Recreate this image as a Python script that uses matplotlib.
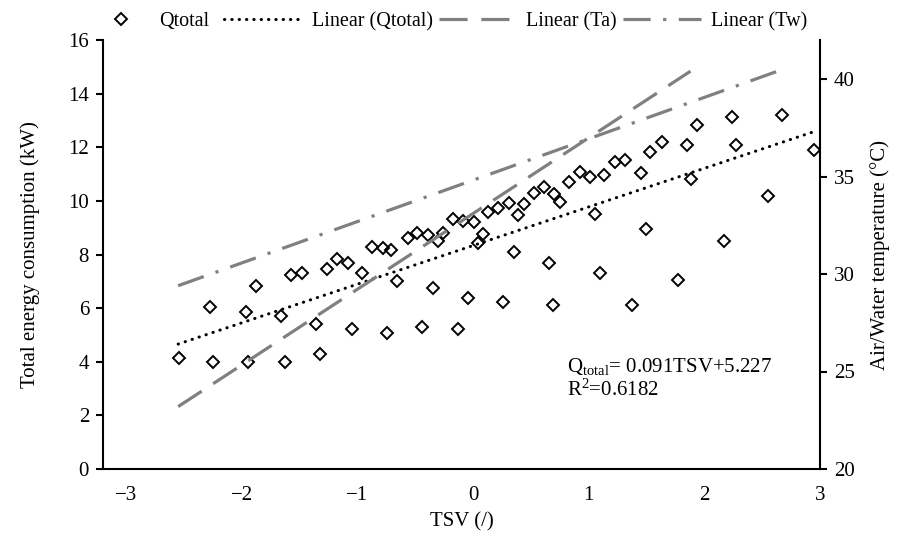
import matplotlib
matplotlib.use('Agg')
import matplotlib.pyplot as plt

plt.rcParams['font.family'] = 'Liberation Serif'
plt.rcParams['mathtext.fontset'] = 'custom'
plt.rcParams['mathtext.rm'] = 'Liberation Serif'
plt.rcParams['mathtext.it'] = 'Liberation Serif:italic'

# scatter data: TSV vs total energy consumption (kW)
tsv = [-2.545, -2.251, -1.948, -1.628, -1.325, -2.277, -1.965, -1.662, -1.879, -1.576,
       -1.481, -1.264, -1.177, -1.082, -0.961, -1.359, -1.048, -0.745, -0.874, -0.779,
       -0.710, -0.658, -0.563, -0.485, -0.390, -0.303, -0.260, -0.173, -0.087, 0.009,
       0.087, 0.043, -0.346, -0.043, -0.442, -0.130, 0.130, 0.216, 0.312, 0.390,
       0.442, 0.528, 0.615, 0.701, 0.753, 0.831, 0.926, 1.013, 1.134, 1.056,
       0.260, 0.355, 0.658, 0.693, 1.100, 1.229, 1.316, 1.455, 1.532, 1.636,
       1.853, 1.939, 2.242, 2.277, 2.675, 2.944, 1.887, 2.554, 1.498, 2.173,
       1.775, 1.377]
q_total = [4.14, 3.99, 3.99, 3.99, 4.29, 6.04, 5.86, 5.71, 6.83, 7.24,
           7.31, 7.46, 7.83, 7.68, 7.31, 5.41, 5.22, 5.07, 8.28, 8.24,
           8.17, 7.01, 8.62, 8.80, 8.73, 8.50, 8.80, 9.32, 9.25, 9.21,
           8.77, 8.43, 6.75, 6.38, 5.30, 5.22, 9.59, 9.74, 9.92, 9.47,
           9.88, 10.29, 10.52, 10.26, 9.96, 10.70, 11.08, 10.89, 10.97, 9.51,
           6.23, 8.09, 7.68, 6.12, 7.31, 11.45, 11.53, 11.04, 11.82, 12.20,
           12.08, 12.83, 13.13, 12.08, 13.20, 11.90, 10.82, 10.18, 8.95, 8.50,
           7.05, 6.12]

# trendline end points
fit_q_tsv = [-2.55, 2.94]
fit_q_val = [4.66, 12.57]
fit_ta_tsv = [-2.55, 1.88]
fit_ta_val = [23.2, 40.4]
fit_tw_tsv = [-2.55, 2.68]
fit_tw_val = [29.4, 40.5]

FS = 15
LFS = 14.5
GRAY = '#808080'

fig = plt.figure(figsize=(9.02, 5.40), dpi=100)
ax = fig.add_axes([103/902, 1-469/540, (820-103)/902, (469-40)/540])
ax2 = ax.twinx()

h_q, = ax.plot(tsv, q_total, linestyle='none', marker='D', ms=6.5, mfc='none',
               mec='black', mew=1.4, label='Qtotal')
h_fit, = ax.plot(fit_q_tsv, fit_q_val, color='black', lw=2.2,
                 linestyle=(0, (0.1, 2.3)), dash_capstyle='round', label='Linear (Qtotal)')
h_ta, = ax2.plot(fit_ta_tsv, fit_ta_val, color=GRAY, lw=2.3,
                 linestyle=(0, (8.8, 4.3)), dash_capstyle='butt', label='Linear (Ta)')
h_tw, = ax2.plot(fit_tw_tsv, fit_tw_val, color=GRAY, lw=2.3,
                 linestyle=(0, (8.5, 3.9, 1, 3.9)), dash_capstyle='butt', label='Linear (Tw)')

ax.set_xlim(-3.2, 3.0)
ax.set_ylim(0, 16)
ax.set_xticks(range(-3, 4))
ax.set_yticks(range(0, 17, 2))
ax2.set_ylim(20, 42)
ax2.set_yticks([20, 25, 30, 35, 40])

for a in (ax, ax2):
    a.spines['top'].set_visible(False)
    for s in a.spines.values():
        s.set_linewidth(1.5)
ax.spines['right'].set_visible(False)
ax2.spines['left'].set_visible(False)
ax2.spines['bottom'].set_visible(False)

ax.tick_params(axis='y', direction='out', length=5, width=1.5, pad=5, labelsize=FS)
ax.tick_params(axis='x', length=0, pad=12, labelsize=FS)
ax2.tick_params(axis='y', direction='out', length=5, width=1.5, pad=5, labelsize=FS)

ax.set_xlabel('TSV (/)', fontsize=FS, va='center')
ax.xaxis.set_label_coords(0.5, (469-522)/429)
ax.set_ylabel('Total energy consumption (kW)', fontsize=FS, ha='center', va='center')
ax.yaxis.set_label_coords((30-103)/717, 0.5)
ax2.set_ylabel('Air/Water temperature (°C)', fontsize=FS, rotation=90, ha='center', va='center')
ax2.yaxis.set_label_coords((880-103)/717, 0.5)

ax.text(0.647, 0.238, 'Q$_{\\rm total}$= 0.091TSV+5.227', transform=ax.transAxes,
        fontsize=FS, va='center', ha='left')
ax.text(0.647, 0.184, 'R$^{2}$=0.6182', transform=ax.transAxes,
        fontsize=FS, va='center', ha='left')

fig.legend(handles=[h_q], loc='center left', bbox_to_anchor=(111/902, 0.96),
           frameon=False, handlelength=1.0, handletextpad=1.4, borderpad=0,
           borderaxespad=0, fontsize=LFS)
fig.legend(handles=[h_fit, h_ta, h_tw], loc='center left', bbox_to_anchor=(224/902, 0.96),
           ncol=3, frameon=False, handlelength=3.9, handletextpad=0.45, columnspacing=0.3,
           borderpad=0, borderaxespad=0, fontsize=LFS)

fig.savefig('out.png', dpi=100)
